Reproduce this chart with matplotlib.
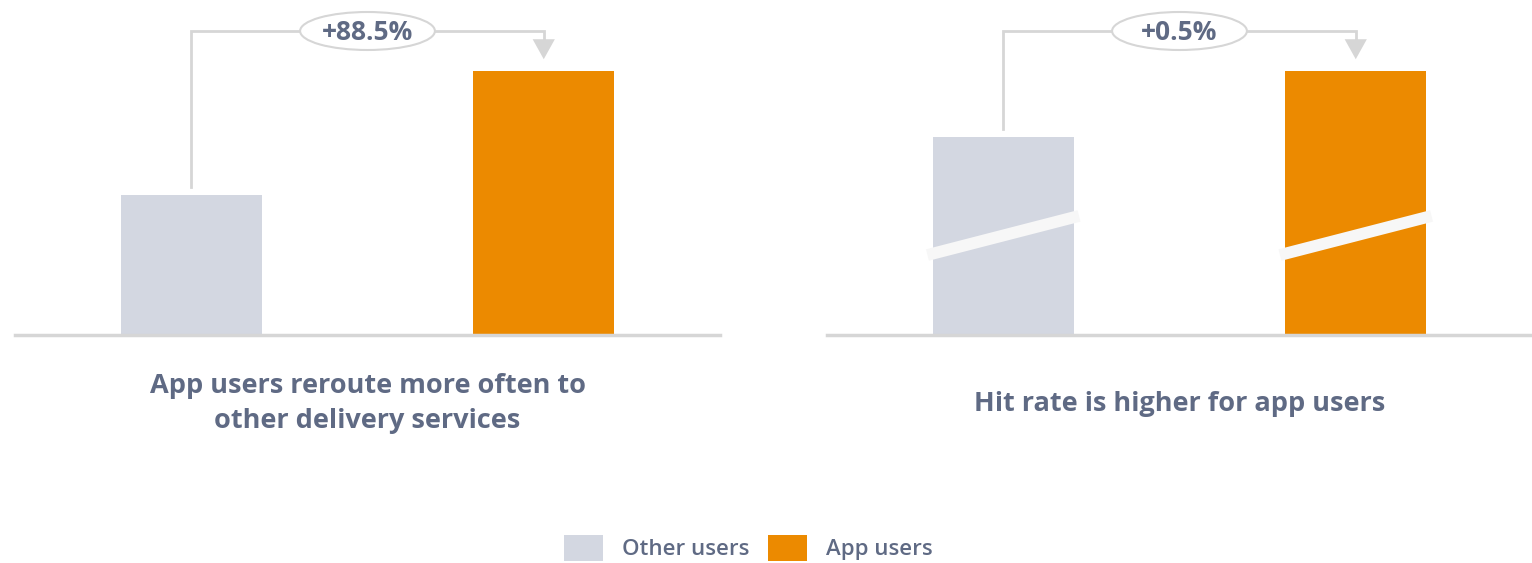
import matplotlib.pyplot as plt
from matplotlib.patches import Ellipse, Patch

# ============================
# DATA
# ============================
groups = ["Other users", "App users"]
reroute = [1.0, 1.885]          # relative rate, other users = 1
hit_rate_shown = [0.75, 1.0]    # bar heights as drawn (axis is broken)
changes = ["+88.5%", "+0.5%"]
titles = ["App users reroute more often to\nother delivery services",
          "Hit rate is higher for app users"]

# ============================
# STYLE
# ============================
grey = "#d3d7e1"
orange = "#ec8a00"
text_col = "#5f6a84"
line_col = "#d6d6d6"
plt.rcParams["font.family"] = ["Open Sans", "DejaVu Sans"]

W, H = 1532, 563
fig = plt.figure(figsize=(W / 100, H / 100), dpi=100)

# axes in pixels: left, width; both go from baseline (y=335) to top
ax1 = fig.add_axes([15 / W, (H - 335) / H, 705 / W, 335 / H])
ax2 = fig.add_axes([827 / W, (H - 335) / H, 705 / W, 335 / H])

panels = [
    (ax1, reroute, 335 / 140),
    (ax2, hit_rate_shown, 335 / 264),
]

for i, (ax, vals, top) in enumerate(panels):
    ax.bar([0, 1], vals, width=0.4, color=[grey, orange])
    ax.set_xlim(-0.5, 1.5)
    ax.set_ylim(0, top)
    ax.axis("off")
    ax.axhline(0, color=line_col, lw=2.5, clip_on=False, zorder=3)

    # bracket from other-users bar to app-users bar
    px = top / 335  # data units per pixel
    y_start = vals[0] + 8 * px
    y_top = top - 31 * px
    y_tip = top - 62 * px
    ax.plot([0, 0, 1, 1], [y_start, y_top, y_top, y_tip + 12 * px],
            color=line_col, lw=2, solid_joinstyle="miter", clip_on=False)
    ax.annotate("", xy=(1, y_tip), xytext=(1, y_tip + 14 * px),
                arrowprops=dict(arrowstyle="-|>,head_length=0.9,head_width=0.5",
                                color=line_col, lw=0, mutation_scale=16),
                annotation_clip=False)
    ax.add_patch(Ellipse((0.5, y_top), 135 / 353, 38 * px,
                         facecolor="white", edgecolor=line_col, lw=1.5,
                         clip_on=False, zorder=4))
    ax.text(0.5, y_top - 1.5 * px, changes[i], ha="center", va="center",
            fontsize=19, fontweight="bold", color=text_col, zorder=5)

    ax.text(0.5, -0.205, titles[i], transform=ax.transAxes, ha="center",
            va="center", fontsize=19.5, fontweight="bold", color=text_col,
            linespacing=1.45)

# axis break marks on the hit-rate bars
for x in [0, 1]:
    ax2.plot([x - 0.215, x + 0.215], [0.303, 0.451], color="#f7f7f7",
             lw=8.5, solid_capstyle="butt", zorder=3)

# ============================
# LEGEND
# ============================
handles = [Patch(facecolor=grey), Patch(facecolor=orange)]
leg = fig.legend(handles, groups, loc="upper center",
                 bbox_to_anchor=(748 / W, 1 - 524 / H), ncol=2, frameon=False,
                 prop={"size": 16, "weight": "semibold"},
                 handlelength=1.75, handleheight=1.4,
                 handletextpad=0.85, columnspacing=0.85, borderpad=0)
for t in leg.get_texts():
    t.set_color(text_col)

fig.savefig("out.png", dpi=100, facecolor="white")
